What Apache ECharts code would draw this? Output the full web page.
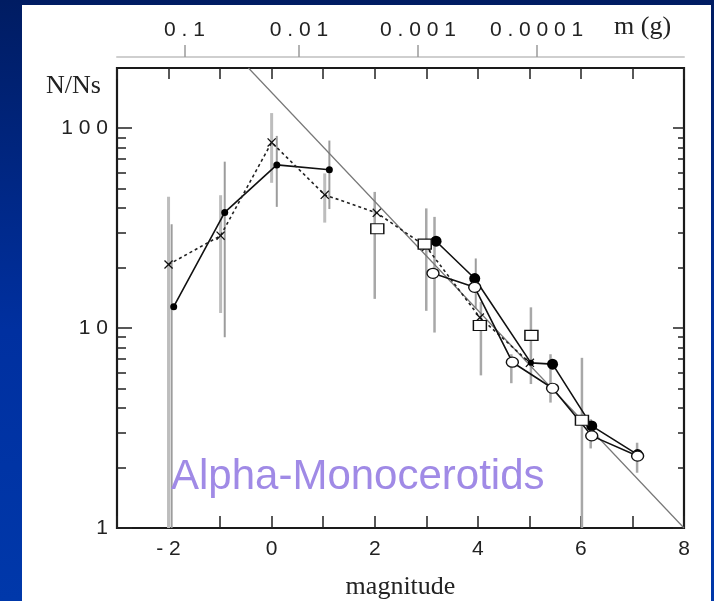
<!DOCTYPE html>
<html>
<head>
<meta charset="utf-8">
<script src="https://cdn.jsdelivr.net/npm/echarts@6/dist/echarts.min.js"></script>
<style>
  html, body { margin: 0; padding: 0; }
  body {
    width: 714px; height: 601px; position: relative; overflow: hidden;
    background: linear-gradient(180deg, #001c62 0%, #0030a0 55%, #0038aa 100%);
  }
  #chart { position: absolute; left: 22px; top: 5px; width: 689px; height: 596px; background: #fff; }
</style>
</head>
<body>
<div id="chart"></div>
<script>
// magnitude axis (bottom) and mass axis (top)
const magLabels = [-2, 0, 2, 4, 6, 8];
const massPos = [-1.69, 0.53, 2.84, 5.14];
const massLabels = ["0.1", "0.01", "0.001", "0.0001"];
const yLabels = [1, 10, 100];
const yMinor = [2, 3, 4, 5, 6, 7, 8, 9, 20, 30, 40, 50, 60, 70, 80, 90];

// small filled dots, solid line
const aX = [-1.9, -0.91, 0.1, 1.12];
const aY = [12.8, 37.9, 65.5, 62];
const aErr = [[-1.94, 1, 33.1], [-0.91, 9.0, 68], [0.1, 40.4, 91.5], [1.12, 39.4, 86.7]];

// crosses, dashed line
const bX = [-2.0, -0.99, 0, 1.03, 2.04, 3.0, 4.04, 5.01];
const bY = [20.8, 29.0, 84.9, 46.4, 37.7, 25.5, 11.3, 6.7];
const bErr = [[-2.0, 1, 45.4], [-0.99, 11.9, 46.2], [0, 53.3, 119], [1.03, 33.7, 59.4]];

// large filled dots, solid line
const cX = [3.19, 3.94, 5.03, 5.45, 6.21, 7.1];
const cY = [27.2, 17.7, 6.7, 6.6, 3.24, 2.33];
const cErr = [[3.96, 12.5, 22.3]];

// open circles, solid line
const dX = [3.13, 3.94, 4.67, 5.45, 6.21, 7.1];
const dY = [18.8, 16.0, 6.75, 5.0, 2.89, 2.29];
const dErr = [[3.16, 9.5, 36], [4.65, 5.3, 7.4], [5.41, 4.24, 7.4], [6.19, 2.5, 3.5], [7.09, 1.89, 2.67]];

// open squares, no line
const eX = [2.05, 2.97, 4.04, 5.04, 6.02];
const eY = [31.4, 26.3, 10.3, 9.2, 3.46];
const eErr = [[2.0, 14.0, 48], [3.0, 12.2, 39.7], [4.06, 5.8, 13.5], [5.03, 5.25, 12.7], [6.02, 1, 7.1]];

// straight reference line
const refX = [-0.45, 8];
const refY = [200, 1];

const zip = (xs, ys) => xs.map((x, i) => [x, ys[i]]);
const spaced = (s) => String(s).split("").join(" ");
const crossPath = "path://M0,1L1,0L5,4L9,0L10,1L6,5L10,9L9,10L5,6L1,10L0,9L4,5Z";

const sans = "Liberation Sans";
const serif = "Liberation Serif";

function errSeries(data, color, width) {
  return {
    type: "custom",
    z: 1,
    silent: true,
    data: data,
    encode: { x: 0, y: [1, 2] },
    renderItem: function (params, api) {
      const x = api.value(0);
      const p1 = api.coord([x, api.value(1)]);
      const p2 = api.coord([x, api.value(2)]);
      return {
        type: "line",
        shape: { x1: p1[0], y1: p1[1], x2: p2[0], y2: p2[1] },
        style: { stroke: color, lineWidth: width },
      };
    },
  };
}

const logAxis = (pos, tickVals, len, labels) => ({
  type: "log",
  logBase: 10,
  min: 1,
  max: 200,
  position: pos,
  axisLine: { show: false, onZero: false },
  splitLine: { show: false },
  axisTick: { inside: true, length: len, customValues: tickVals, lineStyle: { color: "#222", width: 1.5 } },
  axisLabel: labels
    ? { customValues: yLabels, formatter: (v) => spaced(Math.round(v)), fontFamily: sans, fontSize: 21, color: "#222", margin: 9 }
    : { show: false },
});

const chart = echarts.init(document.getElementById("chart"));
chart.setOption({
  animation: false,
  grid: {
    left: 95, top: 63, right: 27, bottom: 73, outerBoundsMode: "none",
    show: true, borderColor: "#1a1a1a", borderWidth: 2.2, backgroundColor: "transparent",
  },
  xAxis: [
    {
      type: "value", min: -3, max: 8, interval: 1, position: "bottom",
      axisLine: { show: false, onZero: false }, splitLine: { show: false },
      axisTick: { show: true, inside: true, length: 12, lineStyle: { color: "#222", width: 1.5 } },
      axisLabel: { customValues: magLabels, formatter: (v) => spaced(v), fontFamily: sans, fontSize: 21, color: "#222", margin: 11 },
      name: "magnitude", nameLocation: "middle", nameGap: 46,
      nameTextStyle: { fontFamily: serif, fontSize: 26, color: "#222" },
    },
    {
      type: "value", min: -3, max: 8, interval: 1, position: "top",
      axisLine: { show: false, onZero: false }, splitLine: { show: false },
      axisTick: { show: true, inside: true, length: 11, lineStyle: { color: "#222", width: 1.5 } },
      axisLabel: { show: false },
    },
    {
      type: "value", min: -3, max: 8, position: "top", offset: 11,
      axisLine: { show: true, onZero: false, lineStyle: { color: "#cfcfcf", width: 2 } },
      splitLine: { show: false },
      axisTick: { customValues: massPos, length: 12, lineStyle: { color: "#9a9a9a", width: 1.5 } },
      axisLabel: {
        customValues: massPos,
        formatter: (v) => spaced(massLabels[massPos.indexOf(v)] || ""),
        fontFamily: sans, fontSize: 21, color: "#222", margin: 16,
      },
    },
  ],
  yAxis: [
    logAxis("left", yLabels, 15, true),
    logAxis("left", yMinor, 9, false),
    logAxis("right", yLabels, 11, false),
    logAxis("right", yMinor, 6, false),
  ],
  graphic: [
    { type: "text", left: 24, top: 68, style: { text: "N/Ns", fontFamily: serif, fontSize: 26, fill: "#222" } },
    { type: "text", left: 592, top: 9, style: { text: "m (g)", fontFamily: serif, fontSize: 26, fill: "#222" } },
    { type: "text", left: 149, top: 451, z: 10, style: { text: "Alpha-Monocerotids", fontFamily: sans, fontSize: 42, fill: "#a08ae6" } },
  ],
  series: [
    errSeries(aErr, "#9c9c9c", 2),
    errSeries(bErr, "#bdbdbd", 3),
    errSeries(cErr, "#9c9c9c", 2),
    errSeries(dErr, "#a8a8a8", 2.5),
    errSeries(eErr, "#a8a8a8", 2.5),
    {
      type: "line", z: 2, data: zip(refX, refY), symbol: "none",
      lineStyle: { color: "#777", width: 1.2 },
    },
    {
      type: "line", z: 3, data: zip(aX, aY), symbol: "circle", symbolSize: 7,
      itemStyle: { color: "#000" }, lineStyle: { color: "#111", width: 1.6 },
    },
    {
      type: "line", z: 3, data: zip(bX, bY), symbol: crossPath, symbolSize: 9,
      itemStyle: { color: "#111" }, lineStyle: { color: "#222", width: 1.6, type: [3, 3] },
    },
    {
      type: "line", z: 4, data: zip(cX, cY), symbol: "circle",
      symbolSize: (v, p) => (p.dataIndex === 2 ? 6 : 11),
      itemStyle: { color: "#000" }, lineStyle: { color: "#111", width: 1.6 },
    },
    {
      type: "line", z: 5, data: zip(dX, dY), symbol: "circle", symbolSize: [12, 10],
      itemStyle: { color: "#fff", borderColor: "#111", borderWidth: 1.3 },
      lineStyle: { color: "#111", width: 1.6 },
    },
    {
      type: "scatter", z: 6, data: zip(eX, eY), symbol: "rect", symbolSize: [13, 10],
      itemStyle: { color: "#fff", borderColor: "#111", borderWidth: 1.3, opacity: 1 },
    },
  ],
});
</script>
</body>
</html>
